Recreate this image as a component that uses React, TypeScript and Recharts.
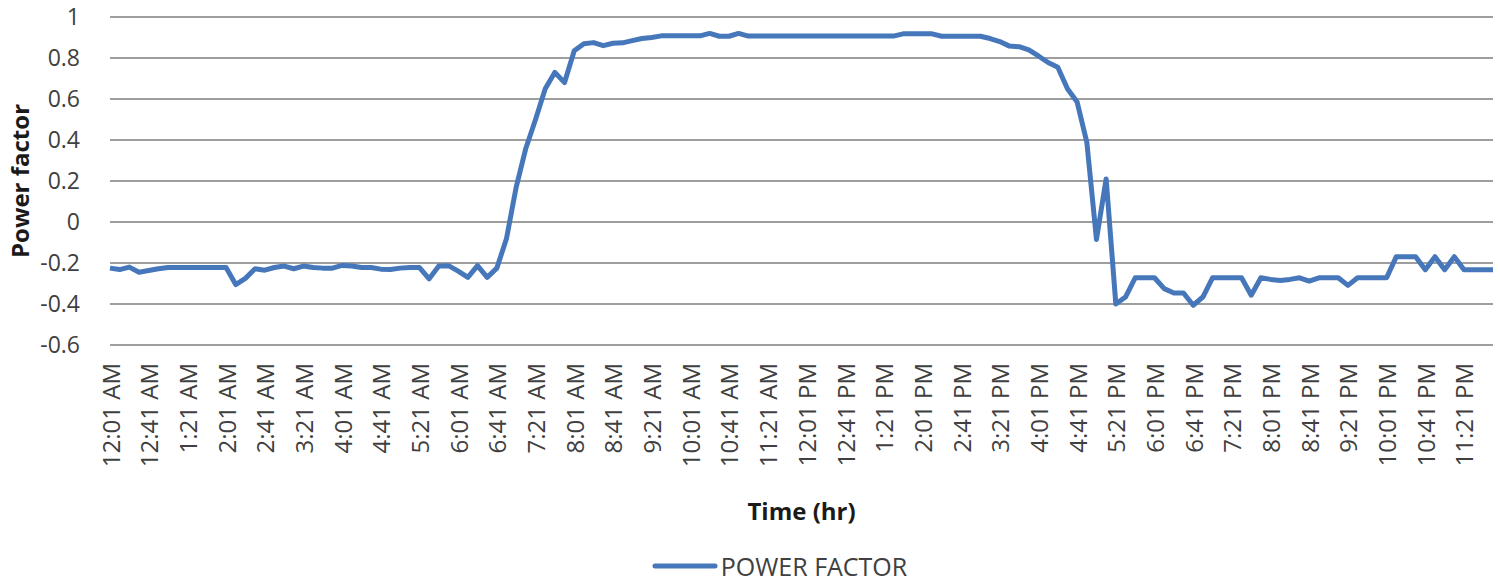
import { LineChart, Line, XAxis, YAxis, CartesianGrid, Legend } from 'recharts';

// readings every 10 minutes, starting 12:01 AM
const startMinute = 1;
const stepMinutes = 10;

const powerFactor = [
  -0.225, -0.232, -0.22, -0.245, -0.237, -0.228, -0.222, -0.222, -0.222, -0.222,
  -0.222, -0.222, -0.222, -0.305, -0.275, -0.228, -0.235, -0.222, -0.215, -0.228,
  -0.215, -0.222, -0.225, -0.225, -0.212, -0.215, -0.222, -0.222, -0.23, -0.232,
  -0.225, -0.222, -0.222, -0.277, -0.215, -0.213, -0.24, -0.27, -0.213, -0.27,
  -0.225, -0.08, 0.17, 0.36, 0.5, 0.65, 0.73, 0.68, 0.835, 0.87,
  0.875, 0.86, 0.872, 0.874, 0.885, 0.895, 0.9, 0.908, 0.908, 0.908,
  0.908, 0.908, 0.92, 0.906, 0.906, 0.92, 0.907, 0.907, 0.907, 0.907,
  0.907, 0.907, 0.907, 0.907, 0.907, 0.907, 0.907, 0.907, 0.907, 0.907,
  0.907, 0.907, 0.918, 0.918, 0.918, 0.918, 0.906, 0.906, 0.906, 0.906,
  0.906, 0.895, 0.88, 0.858, 0.855, 0.84, 0.81, 0.778, 0.755, 0.65,
  0.585, 0.39, -0.085, 0.21, -0.4, -0.366, -0.272, -0.272, -0.272, -0.325,
  -0.346, -0.346, -0.406, -0.366, -0.272, -0.272, -0.272, -0.272, -0.357, -0.272,
  -0.28, -0.285, -0.28, -0.272, -0.288, -0.272, -0.272, -0.272, -0.309, -0.272,
  -0.272, -0.272, -0.272, -0.169, -0.169, -0.169, -0.233, -0.169, -0.233, -0.169,
  -0.233, -0.233, -0.233, -0.233,
];

const yTicks = [-0.6, -0.4, -0.2, 0, 0.2, 0.4, 0.6, 0.8, 1];

const formatTime = (minutes: number) => {
  const h24 = Math.floor(minutes / 60);
  const mm = minutes % 60;
  const h12 = h24 % 12 === 0 ? 12 : h24 % 12;
  return `${h12}:${String(mm).padStart(2, '0')} ${h24 < 12 ? 'AM' : 'PM'}`;
};

const times = powerFactor.map((_, i) => formatTime(startMinute + i * stepMinutes));

const data = times.map((time, i) => ({ time, pf: powerFactor[i] }));

const font = '"Open Sans", sans-serif';
const textColor = '#404040';
const titleColor = '#1a1a1a';
const lineColor = '#4677BA';

const TimeTick = ({ x, y, payload }: any) => (
  <text
    x={x}
    y={y}
    transform={`rotate(-90, ${x}, ${y})`}
    textAnchor="end"
    dominantBaseline="central"
    fill={textColor}
    fontSize={24}
    fontFamily={font}
  >
    {payload.value}
  </text>
);

const LegendContent = ({ payload }: any) => {
  const item = payload && payload[0];
  return (
    <div
      style={{
        display: 'flex',
        justifyContent: 'center',
        alignItems: 'center',
        height: 32,
        paddingLeft: 66,
        fontFamily: font,
        fontSize: 25,
        color: textColor,
      }}
    >
      <svg width={66} height={10}>
        <line x1={3} y1={5} x2={63} y2={5} stroke={item ? item.color : lineColor} strokeWidth={5} strokeLinecap="round" />
      </svg>
      <span style={{ marginLeft: 3 }}>{item ? item.value : ''}</span>
    </div>
  );
};

export default function App() {
  return (
    <div style={{ position: 'absolute', left: 0, top: 0, width: 1500, height: 582, background: '#fff' }}>
      <LineChart width={1500} height={582} data={data} margin={{ top: 17, right: 7, bottom: 0, left: 0 }}>
        <CartesianGrid vertical={false} stroke="#9e9e9e" strokeWidth={2} />
        <XAxis
          dataKey="time"
          interval={3}
          height={205}
          axisLine={false}
          tickLine={false}
          tickMargin={12}
          tick={<TimeTick />}
          label={{
            value: 'Time (hr)',
            position: 'insideBottom',
            offset: 30,
            style: { fontFamily: font, fontSize: 24, fontWeight: 700, fill: titleColor },
          }}
        />
        <YAxis
          domain={[-0.6, 1]}
          ticks={yTicks}
          width={110}
          axisLine={false}
          tickLine={false}
          tickMargin={24}
          tick={{ fontFamily: font, fontSize: 23, fill: textColor }}
          label={{
            value: 'Power factor',
            angle: -90,
            position: 'insideLeft',
            offset: 20,
            style: { textAnchor: 'middle', fontFamily: font, fontSize: 24, fontWeight: 700, fill: titleColor },
          }}
        />
        <Legend verticalAlign="bottom" content={<LegendContent />} />
        <Line
          type="linear"
          dataKey="pf"
          name="POWER FACTOR"
          stroke={lineColor}
          strokeWidth={5}
          strokeLinejoin="round"
          dot={false}
          activeDot={false}
          isAnimationActive={false}
        />
      </LineChart>
    </div>
  );
}
